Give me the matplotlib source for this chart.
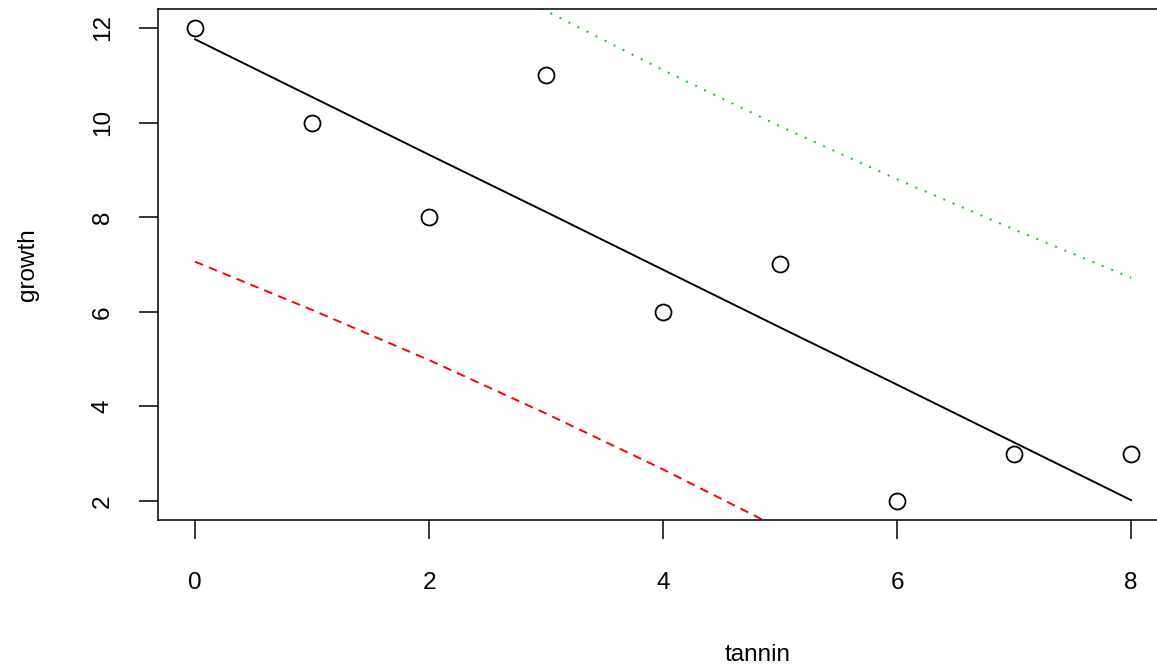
import numpy as np
import matplotlib
matplotlib.use('Agg')
import matplotlib.pyplot as plt

# growth vs tannin, with fitted line and lower/upper bands
tannin = [0, 1, 2, 3, 4, 5, 6, 7, 8]
growth = [12, 10, 8, 11, 6, 7, 2, 3, 3]
fit = [11.76, 10.54, 9.32, 8.11, 6.89, 5.67, 4.46, 3.24, 2.02]
lower = [7.06, 6.04, 4.98, 3.85, 2.67, 1.42, 0.11, -1.26, -2.68]
upper = [16.46, 15.04, 13.67, 12.36, 11.11, 9.92, 8.80, 7.74, 6.72]

plt.rcParams['font.family'] = ['Liberation Sans', 'DejaVu Sans']
fs = 17.5

fig = plt.figure(figsize=(11.57, 6.70), dpi=100)
ax = fig.add_axes([0.1362, 0.2239, 0.8737, 0.7627])

ax.plot(tannin, growth, 'o', ms=11.5, mfc='none', mec='black', mew=1.3, clip_on=False)
ax.plot(tannin, fit, color='black', lw=1.4)
ax.plot(tannin, lower, color='#ff0000', lw=1.4, dashes=(4.5, 3.2))
ax.plot(tannin, upper, color='#00cd00', lw=1.4, dashes=(1, 4.2))

ax.set_xlim(-0.32, 8.32)
ax.set_ylim(1.6, 12.4)
ax.set_xticks([0, 2, 4, 6, 8])
ax.set_yticks([2, 4, 6, 8, 10, 12])
ax.tick_params(length=13.5, width=1.1, labelsize=fs)
ax.tick_params(axis='x', pad=24)
ax.tick_params(axis='y', pad=18)
for lab in ax.get_yticklabels():
    lab.set_rotation(90)
    lab.set_va('center')
for sp in ax.spines.values():
    sp.set_linewidth(1.1)

fig.text(0.0242, 0.6052, 'growth', rotation=90, fontsize=fs, ha='center', va='center')
fig.text(0.6545, 0.0224, 'tannin', fontsize=fs, ha='center', va='center')

fig.savefig('out.png', dpi=100)
